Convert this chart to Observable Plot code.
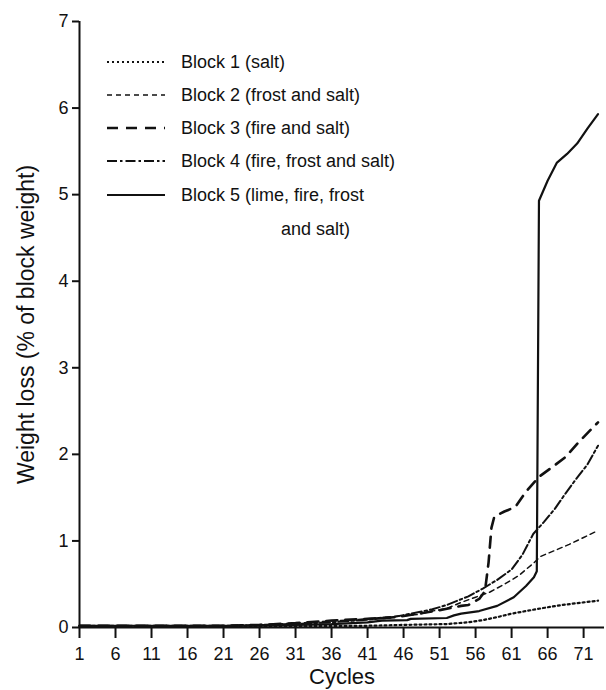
<!DOCTYPE html>
<html>
<head>
<meta charset="utf-8">
<script src="https://cdn.jsdelivr.net/npm/d3@7"></script>
<script src="https://cdn.jsdelivr.net/npm/@observablehq/plot@0.6"></script>
<style>
  html, body { margin: 0; padding: 0; background: #fff; }
  #chart { position: relative; width: 606px; height: 690px; }
</style>
</head>
<body>
<div id="chart"></div>
<script>
// ---- data ----
const xTicks = [1, 6, 11, 16, 21, 26, 31, 36, 41, 46, 51, 56, 61, 66, 71];
const yTicks = [0, 1, 2, 3, 4, 5, 6, 7];

const block1Cycles = [1, 21, 31, 41, 46, 52, 55, 57, 59, 61, 63, 65, 68, 71, 73];
const block1Loss   = [0.01, 0.01, 0.015, 0.02, 0.03, 0.04, 0.06, 0.085, 0.12, 0.16, 0.19, 0.22, 0.26, 0.29, 0.31];

const block2Cycles = [1, 21, 26, 31, 36, 41, 45, 48, 50, 52, 54, 56, 58, 60, 62, 64, 65, 67, 69, 71, 73];
const block2Loss   = [0.02, 0.02, 0.03, 0.05, 0.075, 0.1, 0.13, 0.15, 0.19, 0.22, 0.29, 0.35, 0.41, 0.5, 0.6, 0.74, 0.82, 0.89, 0.96, 1.04, 1.12];

const block3Cycles = [1, 21, 26, 31, 36, 41, 45, 48, 51, 54, 55, 56.5, 57.3, 57.8, 58.2, 58.6, 60, 61.5, 63, 64.8, 66.6, 68.5, 70.3, 73];
const block3Loss   = [0.02, 0.02, 0.03, 0.05, 0.08, 0.1, 0.12, 0.16, 0.2, 0.25, 0.26, 0.33, 0.42, 0.75, 1.15, 1.28, 1.34, 1.39, 1.57, 1.74, 1.85, 1.97, 2.14, 2.37];

const block4Cycles = [1, 21, 26, 31, 36, 41, 44, 47, 50, 52, 55, 57, 59, 61, 62.5, 64, 65.5, 67, 68.5, 70, 71.5, 73];
const block4Loss   = [0.02, 0.02, 0.03, 0.04, 0.06, 0.09, 0.11, 0.16, 0.21, 0.26, 0.36, 0.45, 0.55, 0.67, 0.84, 1.08, 1.22, 1.37, 1.55, 1.72, 1.88, 2.1];

const block5Cycles = [1, 21, 26, 31, 36, 41, 43, 46.5, 47, 52, 53, 54, 56.5, 59, 61.3, 63, 64.1, 64.5, 64.8, 66, 67.3, 68.7, 70.1, 71.5, 73];
const block5Loss   = [0.02, 0.02, 0.02, 0.03, 0.04, 0.06, 0.08, 0.085, 0.1, 0.11, 0.14, 0.16, 0.19, 0.25, 0.35, 0.48, 0.58, 0.65, 4.93, 5.16, 5.37, 5.47, 5.59, 5.76, 5.93];

const seriesNames = [
  "Block 1 (salt)",
  "Block 2 (frost and salt)",
  "Block 3 (fire and salt)",
  "Block 4 (fire, frost and salt)",
  "Block 5 (lime, fire, frost"
];
const legendContinuation = "and salt)";
const xLabel = "Cycles";
const yLabel = "Weight loss (% of block weight)";

// ---- styles ----
const styles = [
  {dash: "2,3", width: 2.2},
  {dash: "5,4", width: 1.5},
  {dash: "11,8", width: 2.6},
  {dash: "10,3,2.5,3", width: 2},
  {dash: null, width: 2.2}
];

const cyclesArr = [block1Cycles, block2Cycles, block3Cycles, block4Cycles, block5Cycles];
const lossArr = [block1Loss, block2Loss, block3Loss, block4Loss, block5Loss];
const series = cyclesArr.map((cs, i) => cs.map((c, j) => ({cycle: c, loss: lossArr[i][j]})));

const font = "'Liberation Sans', Arial, Helvetica, sans-serif";

const plot = Plot.plot({
  width: 606,
  height: 690,
  marginLeft: 79,
  marginRight: 2,
  marginTop: 21,
  marginBottom: 63,
  style: {fontFamily: font, fontSize: "18px", color: "#111", background: "#fff"},
  x: {domain: [1, 73.9]},
  y: {domain: [0, 7]},
  marks: [
    ...series.map((d, i) => Plot.line(d, {
      x: "cycle", y: "loss",
      stroke: "#111",
      strokeWidth: styles[i].width,
      strokeDasharray: styles[i].dash,
      strokeLinejoin: "round"
    })),
    Plot.ruleY([0], {stroke: "#111", strokeWidth: 2}),
    Plot.ruleX([1], {stroke: "#111", strokeWidth: 2}),
    // tick marks
    Plot.ruleX(xTicks, {x: d => d, y1: 0, y2: 0, insetBottom: -11, stroke: "#111", strokeWidth: 2}),
    Plot.ruleY(yTicks, {y: d => d, x1: 1, x2: 1, insetLeft: -7, stroke: "#111", strokeWidth: 2}),
    Plot.axisX({ticks: xTicks, tickSize: 0, tickPadding: 20, tickFormat: d => String(d), label: null, fontSize: 18}),
    Plot.axisY({ticks: yTicks, tickSize: 0, tickPadding: 11, tickFormat: d => String(d), label: null, fontSize: 18}),
    Plot.text([xLabel], {frameAnchor: "bottom", lineAnchor: "middle", dy: 49, fontSize: 22, fill: "#111"}),
    Plot.text([yLabel], {frameAnchor: "left", textAnchor: "middle", lineAnchor: "middle", rotate: -90, dx: -53, fontSize: 23, fill: "#111"})
  ]
});

document.getElementById("chart").appendChild(plot);

const svg = d3.select(plot);

// ---- legend (inside the frame, top-left) ----
const leg = svg.append("g").attr("font-family", font).attr("font-size", 18).attr("fill", "#111").attr("text-anchor", "start");
const rowY = [62, 95, 128, 161, 195];
seriesNames.forEach((name, i) => {
  leg.append("line")
    .attr("x1", 107).attr("x2", 165)
    .attr("y1", rowY[i]).attr("y2", rowY[i])
    .attr("stroke", "#111")
    .attr("stroke-width", styles[i].width)
    .attr("stroke-dasharray", styles[i].dash);
  leg.append("text").attr("x", 181).attr("y", rowY[i]).attr("dy", "0.35em").attr("text-anchor", "start").text(name);
});
leg.append("text").attr("x", 281).attr("y", 229).attr("dy", "0.35em").attr("text-anchor", "start").text(legendContinuation);
</script>
</body>
</html>
